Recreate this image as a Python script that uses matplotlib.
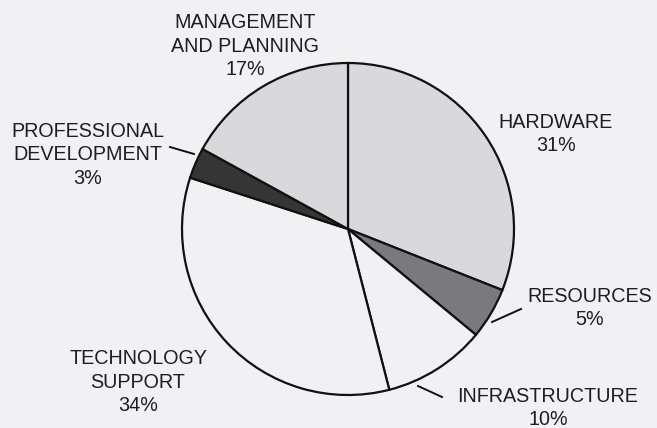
import numpy as np
import matplotlib.pyplot as plt

#%% Dados
categorias = ['HARDWARE', 'RESOURCES', 'INFRASTRUCTURE', 'TECHNOLOGY\nSUPPORT',
              'PROFESSIONAL\nDEVELOPMENT', 'MANAGEMENT\nAND PLANNING']
percentuais = [31, 5, 10, 34, 3, 17]
cores = ['#d9d9dc', '#7a7a7c', '#f1f1f4', '#f1f1f4', '#353535', '#d9d9dc']

fundo = '#f1f1f4'
plt.rcParams['font.family'] = ['Liberation Sans', 'DejaVu Sans']

fig = plt.figure(figsize=(6.57, 4.28), dpi=100, facecolor=fundo)
# pizza: centro (348, 229) px, raio 166 px
cx, cy, r = 348, 229, 166
ax = fig.add_axes([(cx - r)/657, (428 - cy - r)/428, 2*r/657, 2*r/428])
ax.set_facecolor(fundo)

ax.pie(percentuais, colors=cores, startangle=90, counterclock=False,
       wedgeprops=dict(edgecolor='#111111', linewidth=1.6))
ax.set_aspect('auto')
ax.set_xlim(-1, 1)
ax.set_ylim(-1, 1)
ax.axis('off')

# conversao de pixel da figura para coordenadas dos dados
def px(x, y):
    return (x - cx) / r, (cy - y) / r

# posicao dos rotulos (centro do bloco de texto, em pixels)
pos_rotulos = [(556, 134), (590, 308), (548, 408), (138, 382), (88, 155), (245, 46)]
for nome, p, (x, y) in zip(categorias, percentuais, pos_rotulos):
    tx, ty = px(x, y)
    ax.text(tx, ty, nome + '\n' + str(p) + '%', ha='center', va='center',
            fontsize=14.2, color='#1e1e1e', linespacing=1.3, clip_on=False)

# linhas guia
guias = [((170, 147), (194, 154)), ((521, 309), (492, 322)), ((418, 386), (442, 397))]
for a, b in guias:
    x0, y0 = px(*a)
    x1, y1 = px(*b)
    ax.plot([x0, x1], [y0, y1], color='#111111', linewidth=1.4, clip_on=False)

plt.savefig('out.png', dpi=100, facecolor=fundo)
